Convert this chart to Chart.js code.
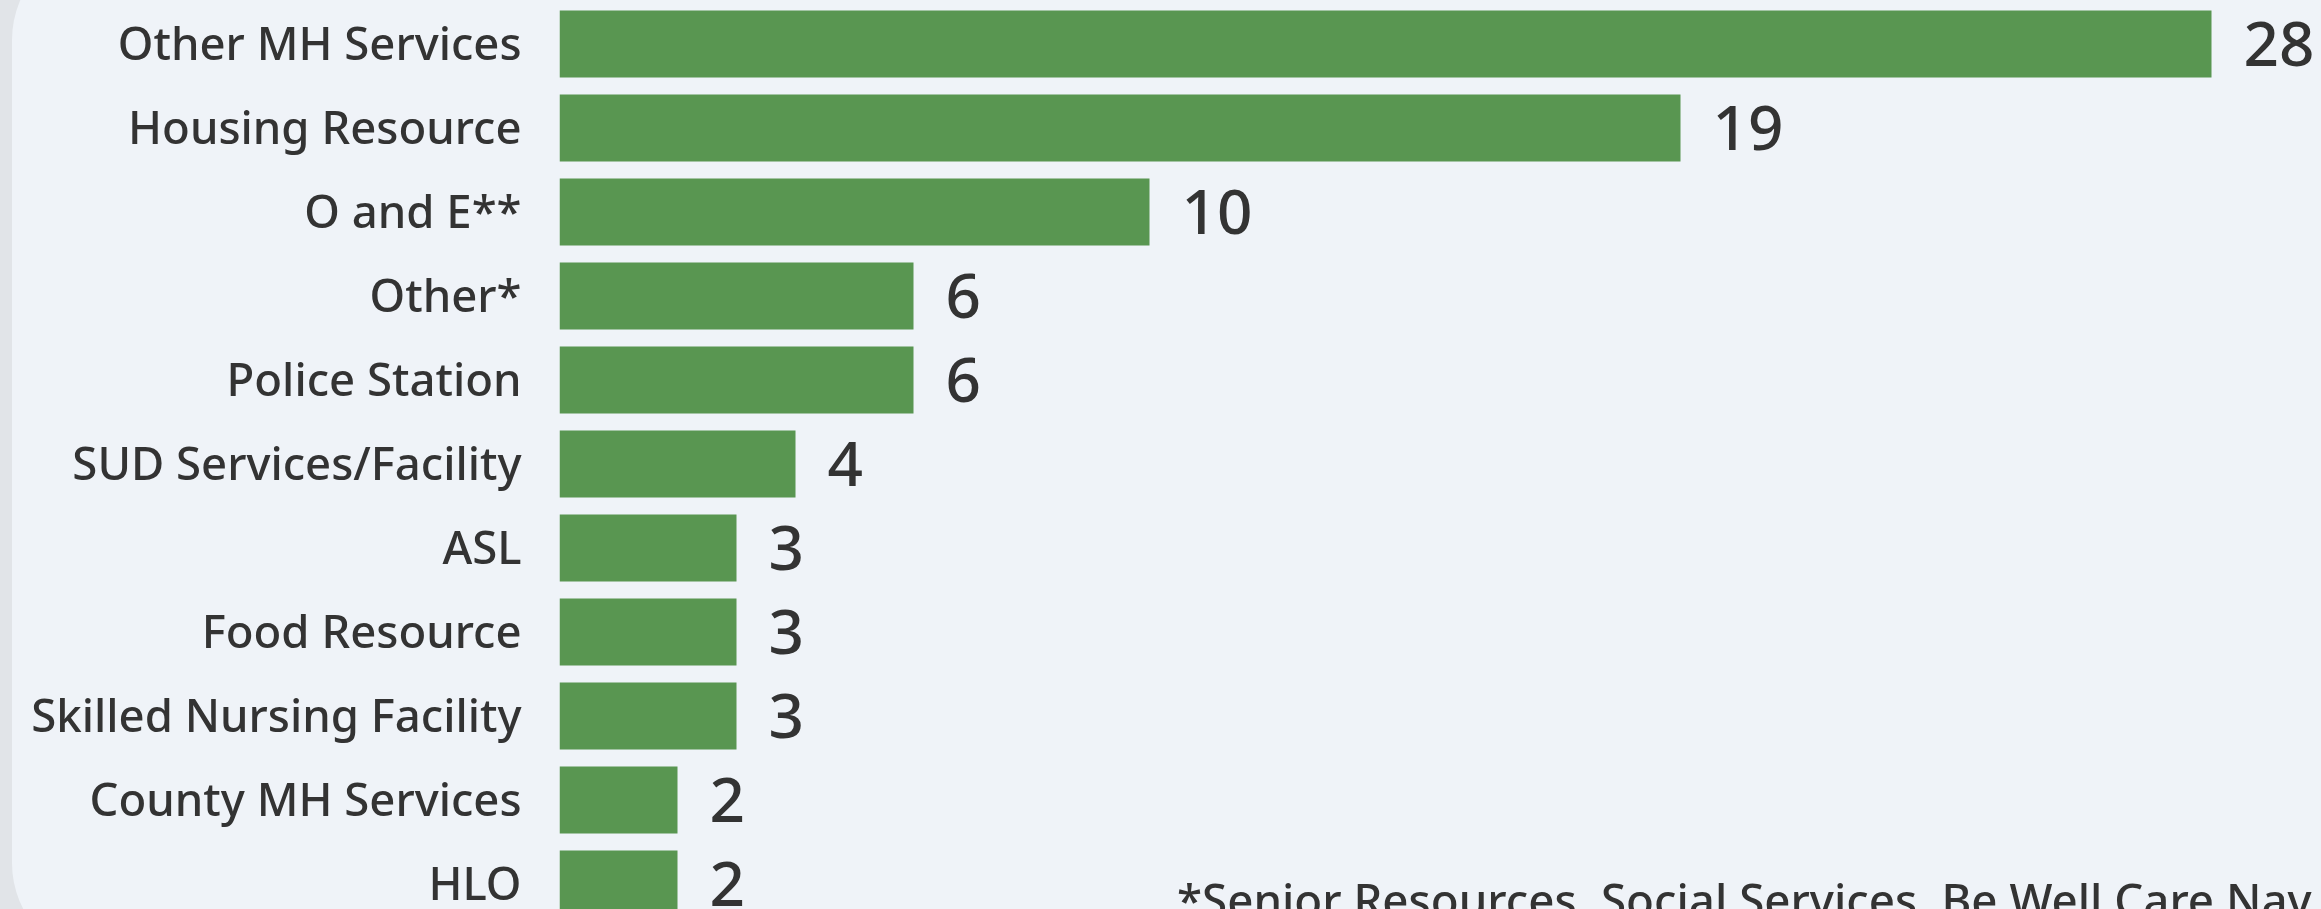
<!DOCTYPE html>
<html>
<head>
<meta charset="utf-8">
<script src="https://cdn.jsdelivr.net/npm/chart.js@4.4.1/dist/chart.umd.min.js"></script>
<style>
  html, body { margin: 0; padding: 0; width: 2321px; height: 909px; overflow: hidden; background: #e1e4e8; }
  #card { position: absolute; left: 12px; top: -60px; width: 2420px; height: 1023px; background: #eff3f8; border-radius: 100px; }
  #wrap { position: absolute; left: 0; top: 0; width: 2321px; height: 930px; }
  #note { position: absolute; left: 1177px; top: 877px; font-family: "Noto Sans", "Open Sans", sans-serif; font-weight: 500; font-size: 45.7px; line-height: 1; color: #333333; white-space: nowrap; }
</style>
</head>
<body>
<div id="card"></div>
<div id="wrap"><canvas id="c"></canvas></div>
<div id="note"></div>
<script>
// ---- data ----
const categories = [
  'Other MH Services',
  'Housing Resource',
  'O and E**',
  'Other*',
  'Police Station',
  'SUD Services/Facility',
  'ASL',
  'Food Resource',
  'Skilled Nursing Facility',
  'County MH Services',
  'HLO'
];
const counts = [28, 19, 10, 6, 6, 4, 3, 3, 3, 2, 2];
const footnoteText = '*Senior Resources, Social Services, Be Well Care Nav';

document.getElementById('note').textContent = footnoteText;

const FONT = '"Noto Sans", "Open Sans", sans-serif';
const valueFontSize = 62;
const valueLabels = {
  id: 'valueLabels',
  afterDatasetsDraw(chart) {
    const ctx = chart.ctx;
    const meta = chart.getDatasetMeta(0);
    ctx.save();
    ctx.font = '500 ' + valueFontSize + 'px ' + FONT;
    ctx.fillStyle = '#333333';
    ctx.textAlign = 'left';
    ctx.textBaseline = 'alphabetic';
    meta.data.forEach((bar, i) => {
      const v = chart.data.datasets[0].data[i];
      ctx.fillText(String(v), bar.x + 32, bar.y + valueFontSize * 0.36);
    });
    ctx.restore();
  }
};

function draw() {
  new Chart(document.getElementById('c'), {
    type: 'bar',
    data: {
      labels: categories,
      datasets: [{
        data: counts,
        backgroundColor: '#599651',
        borderWidth: 0,
        barPercentage: 0.8,
        categoryPercentage: 1.0
      }]
    },
    options: {
      indexAxis: 'y',
      responsive: true,
      maintainAspectRatio: false,
      animation: false,
      layout: { padding: { top: 2, bottom: 4, left: 0, right: 21 } },
      plugins: { legend: { display: false }, tooltip: { enabled: false } },
      scales: {
        x: { display: false, min: 0, max: 29.5 },
        y: {
          grid: { display: false, drawTicks: false },
          border: { display: false },
          ticks: {
            padding: 38,
            labelOffset: 3,
            color: '#333333',
            autoSkip: false,
            font: { family: FONT, size: 45.5, weight: '500' }
          },
          afterFit(scale) {
            scale.width = 559.5;
            scale.paddingTop = 0;
            scale.paddingBottom = 0;
          }
        }
      }
    },
    plugins: [valueLabels]
  });
}
if (document.fonts && document.fonts.load) {
  Promise.all([
    document.fonts.load('500 46px "Noto Sans"'),
    document.fonts.load('500 62px "Noto Sans"')
  ]).then(draw, draw);
} else { draw(); }
</script>
</body>
</html>
